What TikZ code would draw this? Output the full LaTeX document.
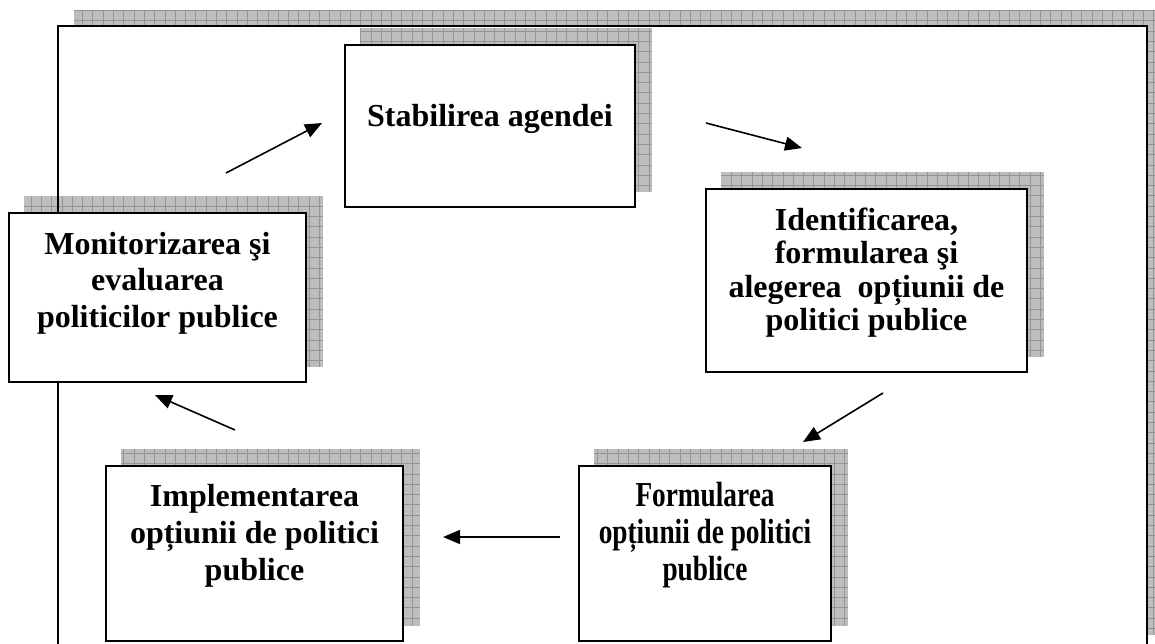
\documentclass[tikz,border=0pt]{standalone}
\usepackage{fontspec}
\setmainfont{Liberation Serif}
\newfontfamily\narrowserif{Liberation Serif}[FakeStretch=0.78]
\usetikzlibrary{arrows.meta,backgrounds,calc}

\tikzset{
  x=1pt, y=-1pt,
  stage/.style={draw=black, line width=1.8pt, fill=white, inner sep=0pt},
  stagetext/.style={align=center, inner sep=0pt, anchor=north},
  shadowfill/.style={fill=black!26},
  shadowgrid/.style={draw=black!42, line width=0.6pt, step=10.3pt},
  flow/.style={line width=1.6pt, -{Triangle[length=17pt,width=14pt]}},
}

% hatched drop shadow, shifted up and right from a stage box
\newcommand\stageshadow[1]{%
  \fill[shadowfill] ($(#1.south west)+(16,-16)$) rectangle ($(#1.north east)+(16,-16)$);
  \begin{scope}
    \clip ($(#1.south west)+(16,-16)$) rectangle ($(#1.north east)+(16,-16)$);
    \draw[shadowgrid] ($(#1.south west)+(16,-16)$) grid ($(#1.north east)+(16,-16)$);
  \end{scope}}

\newcommand\firstline{\rule{0pt}{26pt}}

\begin{document}
\begin{tikzpicture}
\useasboundingbox (0,0) rectangle (1155,643);
\clip (0,0) rectangle (1155,643);

% stage boxes
\node[stage, minimum width=290pt, minimum height=162pt] (agenda)  at (490,126)   {};
\node[stage, minimum width=321pt, minimum height=183pt] (ident)   at (866.5,280.5) {};
\node[stage, minimum width=252pt, minimum height=175pt] (formul)  at (705,553.5) {};
\node[stage, minimum width=297pt, minimum height=175pt] (implem)  at (254.5,553.5) {};
\node[stage, minimum width=297pt, minimum height=169pt] (monitor) at (157.5,297.5) {};

% stage captions
\node[stagetext, font=\bfseries\fontsize{32}{36.7}\selectfont] (agenda-t) at (490,100)
  {\firstline Stabilirea agendei};
\node[stagetext, font=\bfseries\fontsize{32}{33.4}\selectfont] (ident-t) at (866.5,204)
  {\firstline Identificarea,\\ formularea şi\\ alegerea\ \ opțiunii de\\ politici publice};
\node[stagetext, font=\narrowserif\bfseries\fontsize{35}{37}\selectfont] (formul-t) at (705,480)
  {\firstline Formularea\\ opțiunii de politici\\ publice};
\node[stagetext, font=\bfseries\fontsize{32}{37}\selectfont] (implem-t) at (254.5,480)
  {\firstline Implementarea\\ opțiunii de politici\\ publice};
\node[stagetext, font=\bfseries\fontsize{32}{36.7}\selectfont] (monitor-t) at (157.5,228)
  {\firstline Monitorizarea şi\\ evaluarea\\ politicilor publice};

% frame, shadows
\begin{scope}[on background layer]
  \coordinate (frameA) at (58,26);
  \coordinate (frameB) at (1147,651);
  \fill[shadowfill] ($(frameA)+(16,-16)$) rectangle ($(frameB)+(16,-16)$);
  \begin{scope}
    \clip ($(frameA)+(16,-16)$) rectangle ($(frameB)+(16,-16)$);
    \draw[shadowgrid] ($(frameA)+(16,-16)$) grid ($(frameB)+(16,-16)$);
  \end{scope}
  \fill[white] (frameA) rectangle (frameB);
  \stageshadow{agenda}
  \stageshadow{ident}
  \stageshadow{formul}
  \stageshadow{implem}
  \stageshadow{monitor}
  \draw[line width=1.8pt] (frameA) rectangle (frameB);
\end{scope}

% cycle arrows
\coordinate (c1a) at (226,173); \coordinate (c1b) at (322,123);
\coordinate (c2a) at (706,123); \coordinate (c2b) at (802,148);
\coordinate (c3a) at (883,393); \coordinate (c3b) at (803,442);
\coordinate (c4a) at (560,537); \coordinate (c4b) at (443,537);
\coordinate (c5a) at (235,430); \coordinate (c5b) at (155,395);
\draw[flow] (c1a) -- (c1b);
\draw[flow] (c2a) -- (c2b);
\draw[flow] (c3a) -- (c3b);
\draw[flow] (c4a) -- (c4b);
\draw[flow] (c5a) -- (c5b);
\end{tikzpicture}
\end{document}
